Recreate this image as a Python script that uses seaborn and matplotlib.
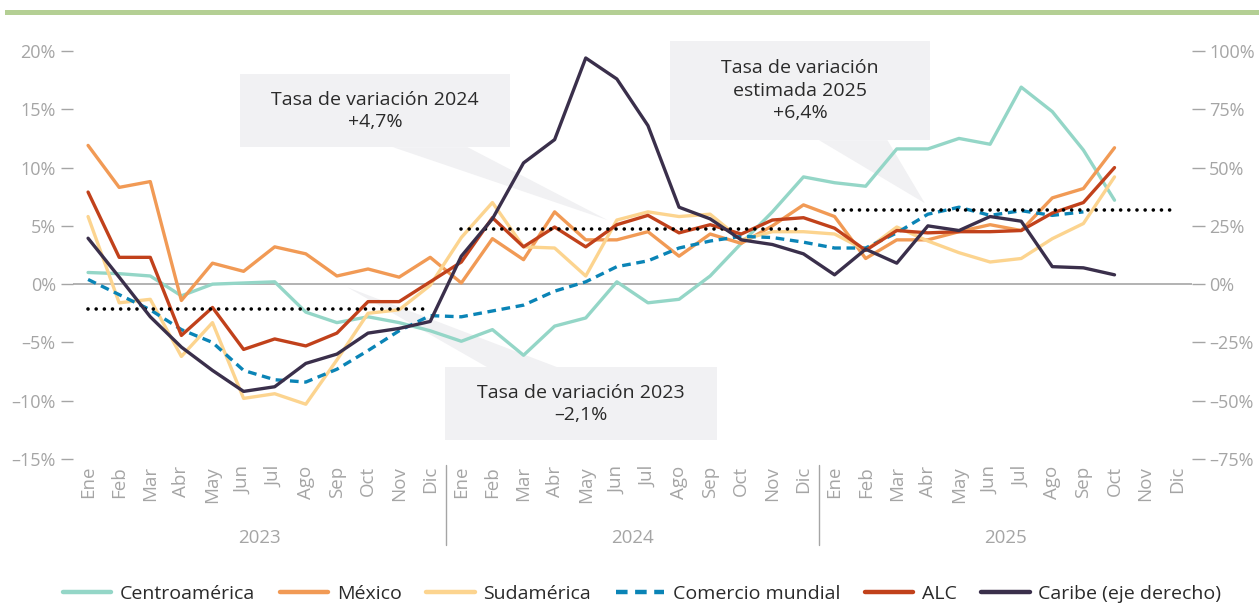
import matplotlib
matplotlib.use("Agg")
import matplotlib.pyplot as plt
import matplotlib.transforms as mtransforms
from matplotlib.patches import Rectangle, Polygon
import numpy as np
import pandas as pd
import seaborn as sns

# data (monthly, Ene 2023 .. Dic 2025)
years = ["2023", "2024", "2025"]
months = ["Ene", "Feb", "Mar", "Abr", "May", "Jun", "Jul", "Ago", "Sep", "Oct", "Nov", "Dic"]
nan = np.nan

centroamerica = [1.0, 0.9, 0.7, -1.0, 0.0, 0.1, 0.2, -2.4, -3.3, -2.8, -3.3, -4.0,
                 -4.9, -3.9, -6.1, -3.6, -2.9, 0.2, -1.6, -1.3, 0.7, 3.5, 6.2, 9.2,
                 8.7, 8.4, 11.6, 11.6, 12.5, 12.0, 16.9, 14.8, 11.5, 7.2, nan, nan]
mexico = [11.9, 8.3, 8.8, -1.4, 1.8, 1.1, 3.2, 2.6, 0.7, 1.3, 0.6, 2.3,
          0.1, 3.9, 2.1, 6.2, 3.8, 3.8, 4.5, 2.4, 4.3, 3.5, 5.0, 6.8,
          5.8, 2.2, 3.8, 3.8, 4.5, 5.1, 4.6, 7.4, 8.2, 11.7, nan, nan]
sudamerica = [5.8, -1.6, -1.3, -6.2, -3.3, -9.8, -9.4, -10.3, -6.5, -2.5, -2.2, -0.1,
              4.0, 7.0, 3.2, 3.1, 0.7, 5.5, 6.2, 5.8, 6.0, 3.8, 4.5, 4.5,
              4.3, 2.9, 4.9, 3.7, 2.7, 1.9, 2.2, 3.9, 5.2, 9.2, nan, nan]
comercio = [0.4, -0.9, -2.2, -3.9, -5.0, -7.4, -8.2, -8.4, -7.3, -5.7, -4.0, -2.7,
            -2.8, -2.3, -1.8, -0.6, 0.2, 1.5, 2.0, 3.1, 3.7, 4.1, 4.0, 3.6,
            3.1, 3.1, 4.4, 6.0, 6.6, 5.9, 6.3, 5.9, 6.2, nan, nan, nan]
alc = [7.9, 2.3, 2.3, -4.4, -2.0, -5.6, -4.7, -5.3, -4.2, -1.5, -1.5, 0.2,
       1.9, 5.7, 3.2, 4.9, 3.2, 5.1, 5.9, 4.4, 5.1, 4.3, 5.5, 5.7,
       4.8, 2.9, 4.6, 4.4, 4.5, 4.5, 4.6, 6.1, 7.0, 10.0, nan, nan]
caribe = [19.7, 3.0, -14.0, -27.0, -37.0, -46.0, -44.0, -34.0, -30.0, -21.0, -19.0, -16.0,
          12.0, 28.0, 52.0, 62.0, 97.0, 88.0, 68.0, 33.0, 28.0, 19.0, 17.0, 13.0,
          4.0, 15.0, 9.0, 25.0, 23.0, 29.0, 27.0, 7.5, 7.0, 4.0, nan, nan]

annual_rate = [-2.1, 4.7, 6.4]
annual_text = ["Tasa de variación 2023\n–2,1%",
               "Tasa de variación 2024\n+4,7%",
               "Tasa de variación\nestimada 2025\n+6,4%"]

left_ticks = [-15, -10, -5, 0, 5, 10, 15, 20]
left_labels = ["–15%", "–10%", "–5%", "0%", "5%", "10%", "15%", "20%"]
right_ticks = [-75, -50, -25, 0, 25, 50, 75, 100]
right_labels = ["–75%", "–50%", "–25%", "0%", "25%", "50%", "75%", "100%"]

sns.set_theme(style="white")
plt.rcParams["font.family"] = ["Open Sans", "DejaVu Sans"]

grey = "#a5a5a5"
dark = "#2a2a2a"
box_col = "#f1f1f3"

idx = np.arange(36)
df = pd.DataFrame({"mes": idx, "Centroamérica": centroamerica, "México": mexico,
                   "Sudamérica": sudamerica, "Comercio mundial": comercio, "ALC": alc,
                   "Caribe (eje derecho)": caribe})

fig = plt.figure(figsize=(12.59, 6.05), dpi=100)
ax = fig.add_axes([0.0576, 0.2413, 0.8894, 0.6744])
ax2 = ax.twinx()

lw = 2.4
sns.lineplot(data=df, x="mes", y="Centroamérica", ax=ax, color="#94d6c7", lw=lw, label="Centroamérica")
sns.lineplot(data=df, x="mes", y="México", ax=ax, color="#f19a55", lw=lw, label="México")
sns.lineplot(data=df, x="mes", y="Sudamérica", ax=ax, color="#fcd48f", lw=lw, label="Sudamérica")
sns.lineplot(data=df, x="mes", y="Comercio mundial", ax=ax, color="#0a84b6", lw=lw,
             linestyle=(0, (2.6, 1.7)), label="Comercio mundial")
sns.lineplot(data=df, x="mes", y="ALC", ax=ax, color="#c1411b", lw=lw, label="ALC")
sns.lineplot(data=df, x="mes", y="Caribe (eje derecho)", ax=ax2, color="#3a2f4b", lw=lw,
             label="Caribe (eje derecho)")

# annual averages, dotted
for k, rate in enumerate(annual_rate):
    ax.plot([12 * k, 12 * k + 11], [rate, rate], color="black", lw=2.6,
            linestyle=(0, (0.01, 2.25)), dash_capstyle="round", zorder=6)

ax.axhline(0, color=grey, lw=1.2, zorder=1)

# call-out boxes (left-axis data units)
boxes = [
    dict(x0=11.48, x1=20.22, y0=-13.38, y1=-7.12, tip=(8.33, -0.26), base=(12.83, 15.08), ty=-10.3),
    dict(x0=4.89, x1=13.57, y0=11.75, y1=18.0, tip=(16.7, 5.5), base=(9.8, 12.2), ty=14.85),
    dict(x0=18.71, x1=27.07, y0=12.35, y1=20.84, tip=(26.9, 6.95), base=(23.5, 25.7), ty=16.6),
]
for b, txt in zip(boxes, annual_text):
    yb = b["y1"] if b["tip"][1] > b["y1"] else b["y0"]
    tri = Polygon([(b["base"][0], yb), (b["base"][1], yb), b["tip"]], closed=True,
                  facecolor=box_col, edgecolor="none", zorder=0.5, clip_on=False)
    ax.add_patch(tri)
    ax.add_patch(Rectangle((b["x0"], b["y0"]), b["x1"] - b["x0"], b["y1"] - b["y0"],
                           facecolor=box_col, edgecolor="none", zorder=0.5, clip_on=False))
    ax.text((b["x0"] + b["x1"]) / 2, b["ty"], txt, ha="center", va="center",
            fontsize=14, color=dark, linespacing=1.3, zorder=7)

ax.set_xlim(-0.5, 35.5)
ax.set_ylim(-15, 20)
ax2.set_ylim(-75, 100)
ax.set_yticks(left_ticks)
ax.set_yticklabels(left_labels)
ax2.set_yticks(right_ticks)
ax2.set_yticklabels(right_labels)
ax.set_xticks(idx)
ax.set_xticklabels(months * 3, rotation=90, va="top")
ax.set_xlabel("")
ax.set_ylabel("")
ax2.set_ylabel("")

for a in (ax, ax2):
    for s in a.spines.values():
        s.set_visible(False)
    a.grid(False)
ax.tick_params(axis="y", length=9, width=1, color=grey, labelcolor=grey, labelsize=13, pad=3, left=True)
ax2.tick_params(axis="y", length=9, width=1, color=grey, labelcolor=grey, labelsize=13, pad=3, right=True)
ax.tick_params(axis="x", length=0, labelcolor=grey, labelsize=13.5, pad=5)

# year groups under the month labels
trans = mtransforms.blended_transform_factory(ax.transData, ax.transAxes)
for k, yr in enumerate(years):
    ax.text(12 * k + 5.5, -0.193, yr, transform=trans, ha="center", va="center",
            fontsize=13.5, color=grey)
    if k > 0:
        ax.plot([12 * k - 0.5, 12 * k - 0.5], [-0.015, -0.21], transform=trans,
                color=grey, lw=1, clip_on=False)

# legend from both axes
h1, l1 = ax.get_legend_handles_labels()
h2, l2 = ax2.get_legend_handles_labels()
ax.get_legend().remove()
ax2.get_legend().remove()
leg = fig.legend(h1 + h2, l1 + l2, loc="lower center", bbox_to_anchor=(0.51, -0.025), ncol=6,
                 frameon=False, fontsize=14, handlelength=2.5, handletextpad=0.45,
                 columnspacing=1.25)
for t in leg.get_texts():
    t.set_color(dark)
for ln in leg.get_lines():
    ln.set_linewidth(3.2)

# green header rule
fig.add_artist(Rectangle((5 / 1259, 1 - 15 / 605), 1, 5 / 605, transform=fig.transFigure,
                         facecolor="#b4cf94", edgecolor="none"))

fig.savefig("out.png", dpi=100)
